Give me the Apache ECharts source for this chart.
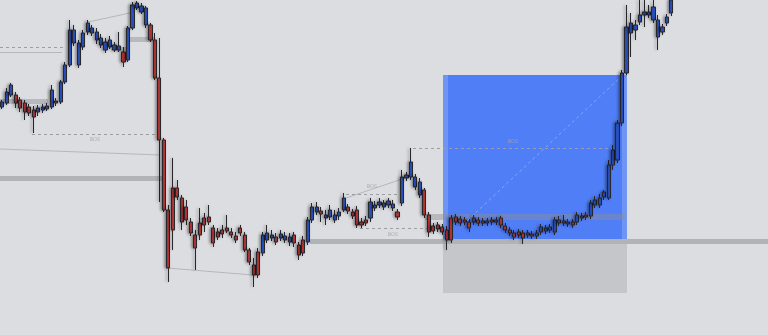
<!DOCTYPE html>
<html><head><meta charset="utf-8">
<script src="https://cdn.jsdelivr.net/npm/echarts@6/dist/echarts.min.js"></script>
<style>html,body{margin:0;padding:0;background:#dcdde1}#c{width:768px;height:335px}</style>
</head><body><div id="c"></div>
<script>
const slotCount = 171;
const opens = [228,232,240,240,235,232,228,225,223,225, 226,228,234,233,253,270,292,270,288,303, 302,295,290,285,288,285,285,283,275,307, 327,323,310,310,295,257,195,125,147,147, 137,128,113,100,112,117,118,107,103,105, 107,103,99,107,100,85,70,83,82,95, 97,98,97,95,93,100,90,95,93,115, 123,124,117,118,115,119,125,128,123,125, 113,115,117,127,130,128,130,127,123,132, 157,158,148,140,145,120,109,110,108,105, 117,118,116,115,113,113,115,114,112,115, 113,117,109,105,102,103,102,102,101,99, 103,104,105,103,112,114,111,113,113,117, 120,119,130,130,138,137,170,175,212,262, 302,305,313,320,320,315,298,303,312,322];
const closes = [233,243,250,232,227,223,222,218,227,228, 229,245,232,253,270,305,305,292,302,312, 307,303,297,293,295,290,289,273,307,330, 332,329,327,295,257,195,125,67,105,138, 113,115,102,87,100,110,113,92,98,101, 104,100,95,102,85,73,60,60,100,102, 100,93,101,99,98,92,80,82,115,128, 128,121,120,125,120,123,137,124,119,110, 110,112,133,130,133,132,134,131,118,158, 160,173,158,153,120,103,104,106,103,95, 95,113,112,113,107,117,112,112,114,113, 115,110,105,102,98,100,97,100,99,102, 108,107,108,115,115,112,113,110,120,119, 118,132,135,137,143,170,185,212,262,308, 312,310,320,323,323,328,315,308,318,335];
const lows = [226,230,238,227,223,215,219,202,219,222, 224,226,229,231,251,268,289,267,285,300, 299,291,287,282,286,283,283,268,273,305, 325,321,307,293,255,133,123,53,85,135, 105,110,99,65,95,103,110,88,95,97, 102,97,92,99,83,70,48,57,79,92, 94,90,94,92,89,88,75,79,90,112, 120,113,110,115,112,115,123,121,116,107, 107,109,113,124,127,125,127,124,115,129, 154,155,145,137,117,98,101,103,100,85, 92,110,109,110,103,110,109,109,109,110, 110,107,102,99,95,97,91,97,96,96, 100,101,102,100,109,109,108,107,110,114, 115,116,127,127,135,135,165,172,209,260, 278,295,310,308,317,312,285,300,309,319];
const highs = [235,247,252,243,238,235,231,229,230,231, 232,250,237,255,273,315,310,295,305,315, 310,307,301,297,299,293,303,288,309,333, 334,332,329,312,302,297,197,130,177,155, 140,135,117,105,127,122,130,110,107,110, 120,107,103,110,103,87,77,87,103,110, 105,102,105,103,102,103,93,99,118,132, 133,128,125,130,125,127,142,131,126,129, 117,119,137,134,137,135,137,135,126,165, 163,187,161,157,147,123,112,113,111,109, 120,121,119,118,116,120,118,117,117,118, 118,119,112,108,105,106,105,105,104,105, 111,110,111,118,119,120,116,116,123,122, 123,135,139,141,145,175,190,215,265,330, 322,315,335,335,330,335,320,311,321,340];

// overlay zones: [startSlot, endSlot, lowPrice, highPrice]
const tradeBoxes = [[98.14, 139.1, 95, 260], [99.25, 137.99, 95, 260], [98.14, 139.1, 42, 95]];
const heavyBands = [[-0.5, 35.79, 154, 159], [68.52, 170.5, 91, 96]];
const lightBands = [[94.13, 138.66, 115, 121], [-0.5, 10.19, 231, 236], [28.0, 34.01, 293, 298], [25.55, 27.78, 283, 288]];
// dashed levels: [startSlot, endSlot, price]
const dashedLevels = [[-0.5, 13.97, 288], [6.63, 35.13, 201], [91.46, 135.77, 187], [76.54, 88.56, 141], [79.66, 94.8, 107]];
// faint trend lines: [x1, p1, x2, p2]
const trendLines = [[-0.5, 283, 13.3, 283], [-0.5, 186, 35.13, 180], [19.09, 313, 28.45, 322], [36.68, 67, 55.83, 60], [76.54, 137, 89.68, 157]];
const targetLine = [102.5, 110, 138.66, 262];
const labelPoints = [[20.65, 195], [82.33, 148], [87.0, 100], [113.72, 193]];
const labelTexts = ['BOS', 'BOS', 'BOS', 'BOS'];

const categories = [];
for (let i = 0; i < slotCount; i++) categories.push('c' + i);
const candles = opens.map((o, i) => [o, closes[i], lows[i], highs[i]]);

const boxColors = ['#6f95f4', '#4f7ef7', '#c5c6ca'];
const chart = echarts.init(document.getElementById('c'), null, {renderer: 'canvas'});
chart.setOption({
  backgroundColor: '#dcdde1',
  animation: false,
  grid: {left: 0, right: 0, top: 0, bottom: 0},
  xAxis: [
    {type: 'category', data: categories, show: false, boundaryGap: true},
    {type: 'value', min: -0.5, max: slotCount - 0.5, show: false}
  ],
  yAxis: [{type: 'value', min: 0, max: 335, show: false, splitLine: {show: false}}],
  series: [
    {type: 'line', xAxisIndex: 1, data: [], z: 1, silent: true,
     markArea: {silent: true, data: tradeBoxes.map((b, k) => [
       {coord: [b[0], b[3]], itemStyle: {color: boxColors[k], opacity: 1}},
       {coord: [b[1], b[2]]}])}},
    {type: 'line', xAxisIndex: 1, data: [], z: 2, silent: true,
     markArea: {silent: true, data: heavyBands.map(b => [
       {coord: [b[0], b[3]], itemStyle: {color: '#b2b3b7', opacity: 1}},
       {coord: [b[1], b[2]]}]).concat(lightBands.map(b => [
       {coord: [b[0], b[3]], itemStyle: {color: 'rgba(140,142,150,0.45)', opacity: 1}},
       {coord: [b[1], b[2]]}]))}},
    {type: 'line', xAxisIndex: 1, data: [], z: 3, silent: true,
     markLine: {silent: true, symbol: ['none', 'none'], label: {show: false},
       data: dashedLevels.map(d => [
         {coord: [d[0], d[2]], lineStyle: {color: '#9c9da2', type: [3, 3], width: 1}},
         {coord: [d[1], d[2]]}]).concat(trendLines.map(t => [
         {coord: [t[0], t[1]], lineStyle: {color: 'rgba(150,152,158,0.55)', type: 'solid', width: 1}},
         {coord: [t[2], t[3]]}])).concat([[
         {coord: [targetLine[0], targetLine[1]], lineStyle: {color: 'rgba(150,175,245,0.8)', type: [3, 3], width: 1}},
         {coord: [targetLine[2], targetLine[3]]}]])}},
    {type: 'candlestick', xAxisIndex: 0, data: candles, z: 5, barWidth: 3.6,
     itemStyle: {color: '#2d58cf', color0: '#c73a3a', borderColor: '#26262b', borderColor0: '#26262b',
       borderWidth: 1, shadowColor: 'rgba(0,0,0,0.4)', shadowBlur: 3, shadowOffsetX: -1.5}},
    {type: 'scatter', xAxisIndex: 1, z: 6, symbolSize: 0, silent: true,
     data: labelPoints.map((p, k) => ({value: p, name: labelTexts[k]})),
     label: {show: true, position: 'inside', formatter: p => p.name, fontSize: 5,
       color: '#a3a4a8', fontFamily: 'DejaVu Sans'}}
  ]
});
</script></body></html>
